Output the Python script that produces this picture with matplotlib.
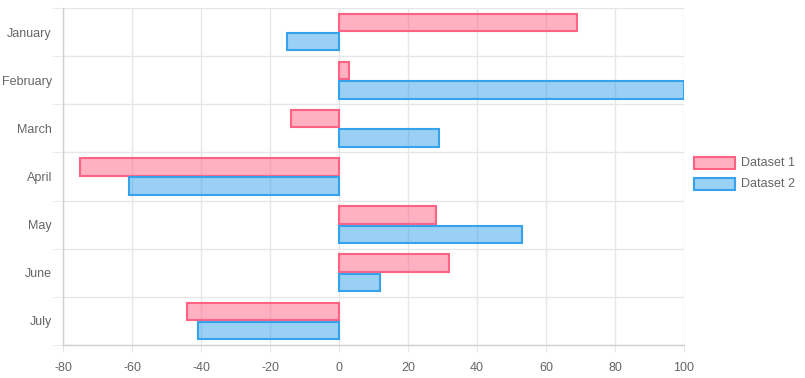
import matplotlib
matplotlib.use("Agg")
import matplotlib.pyplot as plt
from matplotlib.patches import Rectangle
import numpy as np

months = ["January", "February", "March", "April", "May", "June", "July"]
dataset1 = [69, 3, -14, -75, 28, 32, -44]
dataset2 = [-15, 100, 29, -61, 53, 12, -41]
series_names = ["Dataset 1", "Dataset 2"]
x_ticks = [-80, -60, -40, -20, 0, 20, 40, 60, 80, 100]

plt.rcParams['font.family'] = ['Liberation Sans', 'DejaVu Sans']

W, H = 805, 378
fig = plt.figure(figsize=(W / 100, H / 100), dpi=100)
L, R, T, B = 63, 684, 8, 345
ax = fig.add_axes([L / W, (H - B) / H, (R - L) / W, (B - T) / H])

red_edge = (255/255, 99/255, 132/255)
red_fill = (255/255, 99/255, 132/255, 0.5)
blue_edge = (54/255, 162/255, 235/255)
blue_fill = (54/255, 162/255, 235/255, 0.5)

y = np.arange(len(months))
bh = 0.36
ax.barh(y - 0.2, dataset1, height=bh, color=red_fill, edgecolor=red_edge, linewidth=1.5, zorder=3)
ax.barh(y + 0.2, dataset2, height=bh, color=blue_fill, edgecolor=blue_edge, linewidth=1.5, zorder=3)

ax.set_xlim(-80, 100)
ax.set_ylim(6.5, -0.5)

grid_c = '#e6e6e6'
text_c = '#666666'

ax.set_xticks(x_ticks)
ax.set_xticklabels([str(v) for v in x_ticks])
ax.set_yticks(y)
ax.set_yticklabels(months)
ax.set_yticks(np.arange(-0.5, 7.0, 1.0), minor=True)

ax.tick_params(axis='x', length=5, color=grid_c, labelcolor=text_c, labelsize=9, pad=7)
ax.tick_params(axis='y', which='major', length=0, labelcolor=text_c, labelsize=9, pad=8)
ax.tick_params(axis='y', which='minor', length=8, color=grid_c)

ax.grid(axis='x', which='major', color=grid_c, linewidth=1, zorder=0)
ax.grid(axis='y', which='minor', color=grid_c, linewidth=1, zorder=0)

for s in ['top', 'right']:
    ax.spines[s].set_visible(False)
for s in ['left', 'bottom']:
    ax.spines[s].set_color('#d0d0d0')
    ax.spines[s].set_linewidth(1)

# legend
fills = [red_fill, blue_fill]
edges = [red_edge, blue_edge]
for i, name in enumerate(series_names):
    top = 157 + i * 21
    rect = Rectangle((694 / W, 1 - (top + 12) / H), 41 / W, 12 / H,
                     transform=fig.transFigure, facecolor=fills[i], edgecolor=edges[i],
                     linewidth=1.5)
    fig.add_artist(rect)
    fig.text(741 / W, 1 - (top + 6) / H, name, color=text_c, fontsize=9,
             va='center', ha='left')

fig.savefig("out.png", dpi=100)
